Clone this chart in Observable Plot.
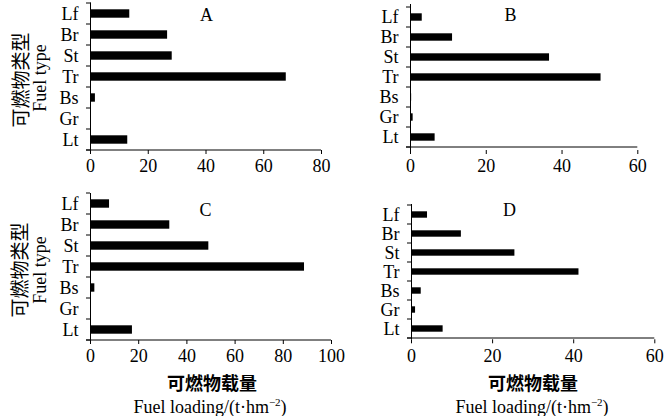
<!DOCTYPE html>
<html>
<head>
<meta charset="utf-8">
<script src="https://cdn.jsdelivr.net/npm/d3@7"></script>
<script src="https://cdn.jsdelivr.net/npm/@observablehq/plot@0.6"></script>
<style>
  html, body { margin: 0; padding: 0; background: #fff; }
  #wrap { position: relative; width: 666px; height: 416px; background: #fff; overflow: hidden; }
  .panel { position: absolute; }
  .t { position: absolute; white-space: nowrap; color: #000; line-height: 20px; }
  .serif { font-family: "Liberation Serif", "DejaVu Serif", serif; }
  .cjk { font-family: "Noto Sans CJK SC", sans-serif; }
  .rot { transform: translate(-50%, -50%) rotate(-90deg); }
  .ctr { transform: translate(-50%, -50%); }
  .sup { position: relative; top: -7px; font-size: 11px; }
</style>
</head>
<body>
<div id="wrap"></div>
<script>
// ---- data ----
const categories = ["Lf", "Br", "St", "Tr", "Bs", "Gr", "Lt"];
const panelLetters = ["A", "B", "C", "D"];
const valuesA = [13.6, 26.7, 28.3, 67.8, 1.7, 0.3, 12.9];
const valuesB = [3.1, 11.1, 36.7, 50.3, 0.3, 0.7, 6.5];
const valuesC = [7.9, 32.9, 49.1, 88.8, 1.8, 0.3, 17.4];
const valuesD = [3.95, 12.3, 25.5, 41.3, 2.4, 1.0, 7.8];
const ticksA = [0, 20, 40, 60, 80];
const ticksB = [0, 20, 40, 60];
const ticksC = [0, 20, 40, 60, 80, 100];
const ticksD = [0, 20, 40, 60];
const yTitleCn = "可燃物类型";
const yTitleEn = "Fuel type";
const xTitleCn = "可燃物载量";

// ---- layout ----
const layouts = [
  {values: valuesA, ticks: ticksA, left: 0,   top: 0,   width: 333, height: 178, mL: 90, mR: 12,   mT: 2.3, mB: 28,   ldx: 116, ldy: 12},
  {values: valuesB, ticks: ticksB, left: 333, top: 0,   width: 333, height: 178, mL: 77, mR: 28.7, mT: 4,   mB: 28,   ldx: 100, ldy: 11},
  {values: valuesC, ticks: ticksC, left: 0,   top: 190, width: 345, height: 176, mL: 90, mR: 14,   mT: 3,   mB: 26,   ldx: 115, ldy: 17},
  {values: valuesD, ticks: ticksD, left: 333, top: 190, width: 333, height: 176, mL: 78, mR: 11.7, mT: 14,  mB: 26.7, ldx: 98,  ldy: 6}
];

// boundary ticks on y axis + x axis line, drawn through the plot's scales
function frameMark(ticks) {
  return function(index, scales, values, dimensions) {
    const x = scales.x, y = scales.y;
    const step = y(categories[1]) - y(categories[0]);
    const x0 = x(0);
    const g = d3.create("svg:g").attr("stroke", "black").attr("stroke-width", 1).attr("fill", "none");
    const bounds = categories.map(c => y(c)).concat([y(categories[categories.length - 1]) + step]);
    for (const b of bounds) {
      g.append("line").attr("x1", x0 - 4).attr("x2", x0).attr("y1", b).attr("y2", b);
    }
    const yb = bounds[bounds.length - 1];
    g.append("line").attr("x1", x0 - 4).attr("x2", x(ticks[ticks.length - 1])).attr("y1", yb).attr("y2", yb);
    return g.node();
  };
}

const wrap = document.getElementById("wrap");

layouts.forEach((L, i) => {
  const data = categories.map((c, k) => ({cat: c, value: L.values[k]}));
  const max = L.ticks[L.ticks.length - 1];
  const chart = Plot.plot({
    width: L.width,
    height: L.height,
    marginLeft: L.mL,
    marginRight: L.mR,
    marginTop: L.mT,
    marginBottom: L.mB,
    style: {
      fontFamily: '"Liberation Serif", "DejaVu Serif", serif',
      fontSize: "18px",
      background: "transparent",
      color: "black",
      overflow: "visible"
    },
    x: {domain: [0, max], ticks: L.ticks, tickSize: 4, tickPadding: 5, label: null},
    y: {domain: categories, padding: 0, tickSize: 0, tickPadding: 12, label: null},
    marks: [
      Plot.barX(data, {x: "value", y: "cat", fill: "black", insetTop: 6.3, insetBottom: 6.3}),
      Plot.ruleX([0], {stroke: "black"}),
      frameMark(L.ticks),
      Plot.text([panelLetters[i]], {
        frameAnchor: "top-left", dx: L.ldx, dy: L.ldy,
        textAnchor: "middle", lineAnchor: "middle", fontSize: 18, fill: "black"
      })
    ]
  });
  const div = document.createElement("div");
  div.className = "panel";
  div.style.left = L.left + "px";
  div.style.top = L.top + "px";
  div.appendChild(chart);
  wrap.appendChild(div);
});

// ---- axis titles ----
function addText(html, cls, x, y, size, weight) {
  const d = document.createElement("div");
  d.className = "t " + cls;
  d.style.left = x + "px";
  d.style.top = y + "px";
  d.style.fontSize = size + "px";
  if (weight) d.style.fontWeight = weight;
  d.innerHTML = html;
  wrap.appendChild(d);
}
// y titles (rotated)
addText(yTitleCn, "cjk rot", 20, 80, 19);
addText(yTitleEn, "serif rot", 40, 78, 18);
addText(yTitleCn, "cjk rot", 19, 270, 19);
addText(yTitleEn, "serif rot", 40, 270, 18);
// x titles
const xTitleEn = 'Fuel loading/(t·hm<span class="sup">−2</span>)';
addText(xTitleCn, "cjk ctr", 212, 382, 18, 700);
addText(xTitleEn, "serif ctr", 210, 408, 18);
addText(xTitleCn, "cjk ctr", 533, 382, 18, 700);
addText(xTitleEn, "serif ctr", 532, 408, 18);
</script>
</body>
</html>
